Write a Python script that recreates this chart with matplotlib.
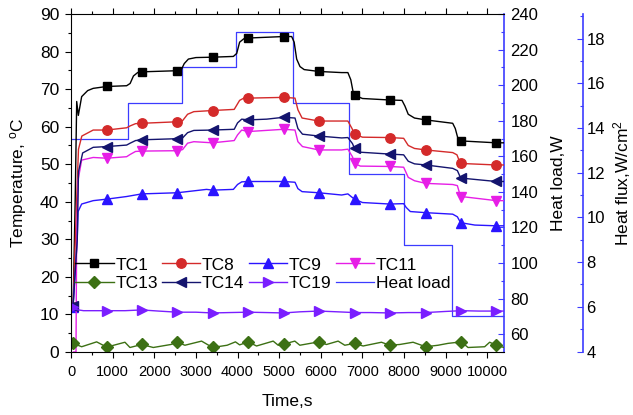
import numpy as np
import matplotlib
matplotlib.use('Agg')
import matplotlib.pyplot as plt
from matplotlib.ticker import MultipleLocator

plt.rcParams['font.family'] = ['Liberation Sans', 'DejaVu Sans']
plt.rcParams['mathtext.fontset'] = 'custom'
plt.rcParams['mathtext.rm'] = 'Liberation Sans'
plt.rcParams['mathtext.it'] = 'Liberation Sans:italic'

# marker positions (s), shared by all thermocouples
MARK_T = [50, 857, 1700, 2552, 3400, 4256, 5110, 5952, 6810, 7656, 8520, 9376, 10216]

# TC1
tc1_t = [50, 100, 137, 176, 256, 400, 533, 857, 1336, 1420, 1500, 1600, 1700, 2552, 2650, 2720, 2820, 3000,
         3400, 3900, 3980, 4050, 4150, 4256, 5110, 5300, 5360, 5420, 5500, 5600, 5952, 6500, 6650, 6720, 6780,
         6810, 7000, 7656, 7950, 8020, 8100, 8250, 8520, 9168, 9230, 9290, 9376, 10216, 10400]
tc1_v = [12, 40, 66.7, 63, 68, 69.6, 70.2, 70.7, 70.9, 71.5, 73.5, 74.4, 74.6, 74.9, 75.2, 76.8, 78.0, 78.4,
         78.5, 78.7, 79.5, 82.5, 83.4, 83.6, 84.0, 84.0, 82.5, 78.0, 76.0, 75.2, 74.7, 74.4, 74.4, 72.5, 69.0,
         68.4, 67.5, 67.1, 67.0, 65.5, 63.3, 62.3, 61.8, 60.9, 59.5, 57.0, 56.2, 55.7, 55.7]

# TC8
tc8_t = [50, 150, 180, 260, 533, 857, 1336, 1420, 1550, 1700, 2552, 2680, 2800, 2950, 3400, 3920, 4050, 4150,
         4256, 5110, 5380, 5450, 5550, 5952, 6650, 6750, 6810, 7000, 7656, 7990, 8100, 8250, 8520, 9168, 9270,
         9330, 9376, 10216, 10400]
tc8_v = [12, 45, 54, 57.5, 59.1, 59.1, 59.7, 60.2, 60.8, 60.9, 61.3, 61.6, 63.3, 64.0, 64.3, 64.6, 67.0, 67.6,
         67.6, 67.8, 67.6, 64.5, 62.3, 61.5, 61.5, 59.5, 58.0, 57.2, 57.1, 56.9, 55.0, 54.2, 53.8, 53.1, 52.5,
         50.8, 50.2, 49.8, 49.8]

# TC9
tc9_t = [50, 150, 170, 256, 533, 857, 1336, 1700, 2552, 3256, 3400, 3900, 4000, 4100, 4256, 5110, 5380, 5450,
         5550, 5952, 6500, 6650, 6750, 6810, 7000, 7656, 7990, 8050, 8150, 8520, 9168, 9280, 9340, 9376, 9700,
         10216, 10400]
tc9_v = [12, 30, 37.4, 39.4, 40.3, 40.7, 41.4, 42.1, 42.4, 43.3, 43.1, 43.3, 44.6, 45.3, 45.4, 45.4, 45.2, 43.5,
         42.7, 42.4, 41.8, 42.1, 41.2, 40.7, 39.8, 39.4, 39.5, 38.5, 37.4, 37.1, 36.7, 36.0, 34.8, 34.4, 33.8,
         33.6, 33.6]

# TC11
tc11_t = [60, 120, 135, 170, 256, 533, 857, 1336, 1420, 1550, 1700, 2552, 2680, 2800, 2950, 3400, 3920, 4000,
          4100, 4256, 5110, 5380, 5450, 5560, 5952, 6500, 6650, 6760, 6810, 6950, 7656, 7990, 8100, 8250, 8520,
          9168, 9280, 9340, 9376, 10216, 10400]
tc11_v = [0, 0, 30, 45.8, 51.1, 51.8, 51.6, 52.0, 52.6, 53.4, 53.5, 53.6, 53.9, 55.6, 56.0, 55.7, 56.3, 57.8,
          59.1, 58.7, 59.3, 59.1, 56.0, 54.7, 53.8, 53.8, 54.0, 52.0, 50.2, 49.5, 49.4, 49.2, 46.5, 45.6, 44.9,
          44.6, 44.3, 42.0, 41.4, 40.3, 40.3]

# TC13
tc13_t = [50, 256, 616, 857, 1296, 1416, 1700, 1976, 2400, 2552, 2736, 3136, 3400, 3750, 3950, 4050, 4256,
          4456, 4856, 4976, 5110, 5376, 5496, 5952, 6136, 6416, 6576, 6810, 7016, 7456, 7656, 7896, 8216, 8520,
          8816, 9056, 9376, 9536, 9936, 10056, 10216, 10400]
tc13_v = [2.3, 1.4, 2.7, 1.3, 2.6, 1.2, 2.0, 1.2, 2.0, 2.6, 1.8, 2.9, 1.2, 1.8, 2.7, 1.9, 2.7,
          1.6, 2.9, 1.8, 2.1, 2.9, 1.8, 2.7, 2.0, 2.9, 1.8, 2.3, 1.6, 2.6, 1.8, 2.0, 2.6, 1.4,
          1.8, 2.3, 2.7, 1.2, 1.4, 2.6, 1.8, 1.2]

# TC14
tc14_t = [50, 150, 180, 280, 533, 857, 1336, 1420, 1550, 1700, 2552, 2680, 2800, 2950, 3400, 3920, 4000, 4100,
          4256, 4700, 5110, 5380, 5450, 5560, 5952, 6500, 6650, 6760, 6810, 6950, 7656, 7990, 8100, 8250, 8520,
          9168, 9280, 9340, 9376, 10216, 10400]
tc14_v = [12.3, 30, 48, 53, 54.5, 54.7, 55.1, 55.6, 56.3, 56.5, 56.8, 57.0, 58.4, 59.0, 59.1, 59.3, 61.0, 62.0,
          61.8, 62.0, 62.5, 62.3, 59.5, 58.0, 57.5, 57.0, 57.1, 55.5, 54.2, 53.2, 52.7, 52.5, 50.8, 50.1, 49.8,
          48.9, 48.3, 46.8, 46.3, 45.4, 45.4]

# TC19
tc19_t = [50, 120, 300, 857, 1300, 1700, 2100, 2552, 3000, 3400, 3800, 4256, 4700, 5110, 5500, 5952, 6400,
          6810, 7200, 7656, 8100, 8520, 9000, 9376, 9800, 10216, 10400]
tc19_v = [12.0, 11.3, 11.0, 11.0, 11.0, 11.2, 10.9, 10.6, 10.6, 10.4, 10.5, 10.6, 10.5, 10.4, 10.7, 10.9, 10.7,
          10.5, 10.5, 10.4, 10.5, 10.5, 10.8, 11.0, 10.9, 10.9, 10.9]

# heat load steps (W)
hl_t = [0, 1375, 2657, 3952, 5336, 6671, 7992, 9151, 10400]
hl_w = [170, 190, 210, 230, 190, 150, 110, 70, 70]

HEATER_AREA = 12.566  # cm^2

series = [
    ('TC1', tc1_t, tc1_v, 'black', 's'),
    ('TC8', tc8_t, tc8_v, '#d42a2a', 'o'),
    ('TC9', tc9_t, tc9_v, '#2a14ff', '^'),
    ('TC11', tc11_t, tc11_v, '#e61ee6', 'v'),
    ('TC13', tc13_t, tc13_v, '#3c7014', 'D'),
    ('TC14', tc14_t, tc14_v, '#14146e', '<'),
    ('TC19', tc19_t, tc19_v, '#7a1eff', '>'),
]


def main():
    fig = plt.figure(figsize=(6.33, 4.15), dpi=100)
    ax = fig.add_axes([71 / 633, 1 - 352 / 415, (504 - 71) / 633, (352 - 14) / 415])
    ax2 = ax.twinx()
    ax3 = ax.twinx()

    # heat load below the temperatures
    ax.set_zorder(ax2.get_zorder() + 2)
    ax.patch.set_visible(False)

    hl_line, = ax2.plot(hl_t, hl_w, drawstyle='steps-post', color='#3c3cff', lw=0.9, label='Heat load')

    handles = {}
    for name, t, v, col, mk in series:
        t = np.array(t)
        ms = 6.0 if mk in ('s', 'D') else 6.8
        h, = ax.plot(t, v, color=col, lw=1.0, marker=mk, ms=ms, markevery=list(np.isin(t, MARK_T)),
                     label=name)
        handles[name] = h

    ax.set_xlim(0, 10400)
    ax.set_ylim(0, 90)
    ax2.set_ylim(50, 240)
    ax3.set_ylim(50 / HEATER_AREA, 240 / HEATER_AREA)

    ax.xaxis.set_major_locator(MultipleLocator(1000))
    ax.xaxis.set_minor_locator(MultipleLocator(500))
    ax.yaxis.set_major_locator(MultipleLocator(10))
    ax.yaxis.set_minor_locator(MultipleLocator(5))
    ax2.yaxis.set_major_locator(MultipleLocator(20))
    ax2.yaxis.set_minor_locator(MultipleLocator(10))
    ax3.yaxis.set_major_locator(MultipleLocator(2))
    ax3.yaxis.set_minor_locator(MultipleLocator(1))

    ax.tick_params(which='both', direction='out', top=True)
    ax.tick_params(axis='x', labelsize=10.5, pad=5)
    ax.tick_params(axis='y', labelsize=12.5, pad=4)
    ax.tick_params(which='major', length=4.5, width=0.8)
    ax.tick_params(which='minor', length=2.5, width=0.8)
    ax.spines['right'].set_visible(False)

    blue = '#3c3cff'
    for a in (ax2, ax3):
        a.spines['right'].set_color(blue)
        a.spines['right'].set_linewidth(1.2)
        a.spines['top'].set_visible(False)
        a.spines['left'].set_visible(False)
        a.spines['bottom'].set_visible(False)
        # ticks of the right-hand scales point to the left
        a.tick_params(which='both', direction='in', colors=blue, labelcolor='black', labelsize=12)
        a.tick_params(which='major', length=4.5, width=0.8)
        a.tick_params(which='minor', length=2.5, width=0.8)
    ax2.tick_params(pad=4.5)
    ax3.tick_params(pad=2.5)
    # 79 px to the right of the heat-load spine (outward is in points)
    ax3.spines['right'].set_position(('outward', 79 * 72 / 100))

    ax.set_xlabel('Time,s', fontsize=12.5, labelpad=11)
    ax.set_ylabel('Temperature, $^{\\rm o}$C', fontsize=12.5, labelpad=7.5)
    ax2.set_ylabel('Heat load,W', fontsize=12.5, labelpad=9.5)
    ax3.set_ylabel('Heat flux,W/cm$^2$', fontsize=12.5, labelpad=4)

    order = ['TC1', 'TC13', 'TC8', 'TC14', 'TC9', 'TC19', 'TC11']
    hs = [handles[n] for n in order] + [hl_line]
    ax.legend(hs, [h.get_label() for h in hs], ncol=4, loc='upper left',
              bbox_to_anchor=(0.01, 0.28), frameon=False, fontsize=12.5,
              handlelength=2.2, handletextpad=0.1, columnspacing=0.25,
              labelspacing=0.2, borderpad=0, borderaxespad=0)

    fig.savefig('out.png', dpi=100)


if __name__ == "__main__":
    main()
